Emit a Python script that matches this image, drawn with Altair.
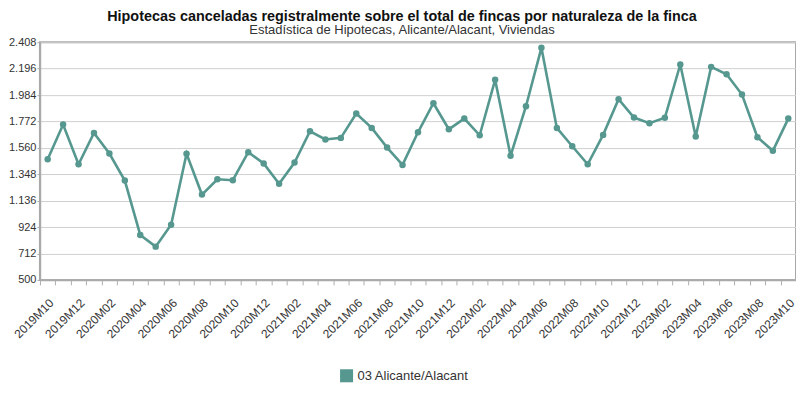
import altair as alt
import pandas as pd

periods = []
y, m = 2019, 10
for _ in range(49):
    periods.append(f"{y}M{m:02d}")
    m += 1
    if m > 12:
        m = 1
        y += 1

values = [1468, 1747, 1428, 1680, 1514, 1297, 861, 767, 942, 1512,
          1185, 1308, 1300, 1525, 1434, 1271, 1442, 1693, 1627, 1640,
          1835, 1720, 1562, 1423, 1685, 1918, 1709, 1795, 1661, 2106,
          1496, 1894, 2363, 1720, 1573, 1428, 1664, 1950, 1803, 1758,
          1801, 2229, 1651, 2210, 2151, 1988, 1645, 1536, 1795]

series_name = "03 Alicante/Alacant"
y_ticks = [500, 712, 924, 1136, 1348, 1560, 1772, 1984, 2196, 2408]

df = pd.DataFrame({"periodo": periods, "valor": values, "serie": series_name})
color = "#56988f"
FONT = "Liberation Sans"

x_enc = alt.X("periodo:N", sort=periods, title=None,
              scale=alt.Scale(paddingInner=0, paddingOuter=0),
              axis=alt.Axis(labelAngle=-45, labelFontSize=12, labelColor="#333",
                            labelExpr="parseInt(substring(datum.value,5,7)) % 2 == 0 ? datum.value : ''",
                            tickColor="#b0b0b0", tickSize=5, tickBand="extent",
                            domainColor="#aaa", domainWidth=1.5,
                            grid=False, labelPadding=12, labelOverlap=False))
y_enc = alt.Y("valor:Q", title=None,
              scale=alt.Scale(domain=[500, 2408], nice=False, zero=False),
              axis=alt.Axis(values=y_ticks, labelFontSize=11, labelColor="#333",
                            labelExpr="replace(format(datum.value, ','), ',', '.')",
                            gridColor="#d0d0d0", tickColor="#aaa", tickSize=3, labelPadding=1,
                            domainColor="#aaa", domainWidth=1.5))

base = alt.Chart(df).encode(x=x_enc, y=y_enc,
    color=alt.Color("serie:N", scale=alt.Scale(range=[color]),
                    legend=alt.Legend(title=None, orient="none", legendX=300, legendY=327,
                                      symbolType="square", symbolSize=170,
                                      symbolStrokeWidth=0, labelFontSize=13,
                                      labelColor="#333", labelFont=FONT)))

line = base.mark_line(strokeWidth=2.6)
pts = base.mark_circle(size=42, opacity=1)

chart = (line + pts).properties(
    width=757, height=238,
    autosize=alt.AutoSizeParams(type="none"),
    padding={"left": 32, "top": 34, "right": 0, "bottom": 111},
    title=alt.TitleParams(
        text="Hipotecas canceladas registralmente sobre el total de fincas por naturaleza de la finca",
        subtitle="Estadística de Hipotecas, Alicante/Alacant, Viviendas",
        font=FONT, fontSize=14.4, fontWeight="bold", color="#111",
        subtitleFont=FONT, subtitleFontSize=13, subtitleColor="#333",
        anchor="middle", offset=-2, dx=-16, subtitlePadding=0)
).configure_view(stroke="#a8a8a8", strokeWidth=2).configure_axis(labelFont=FONT)

chart.save("out.html", embed_options={"renderer": "svg", "actions": False})
